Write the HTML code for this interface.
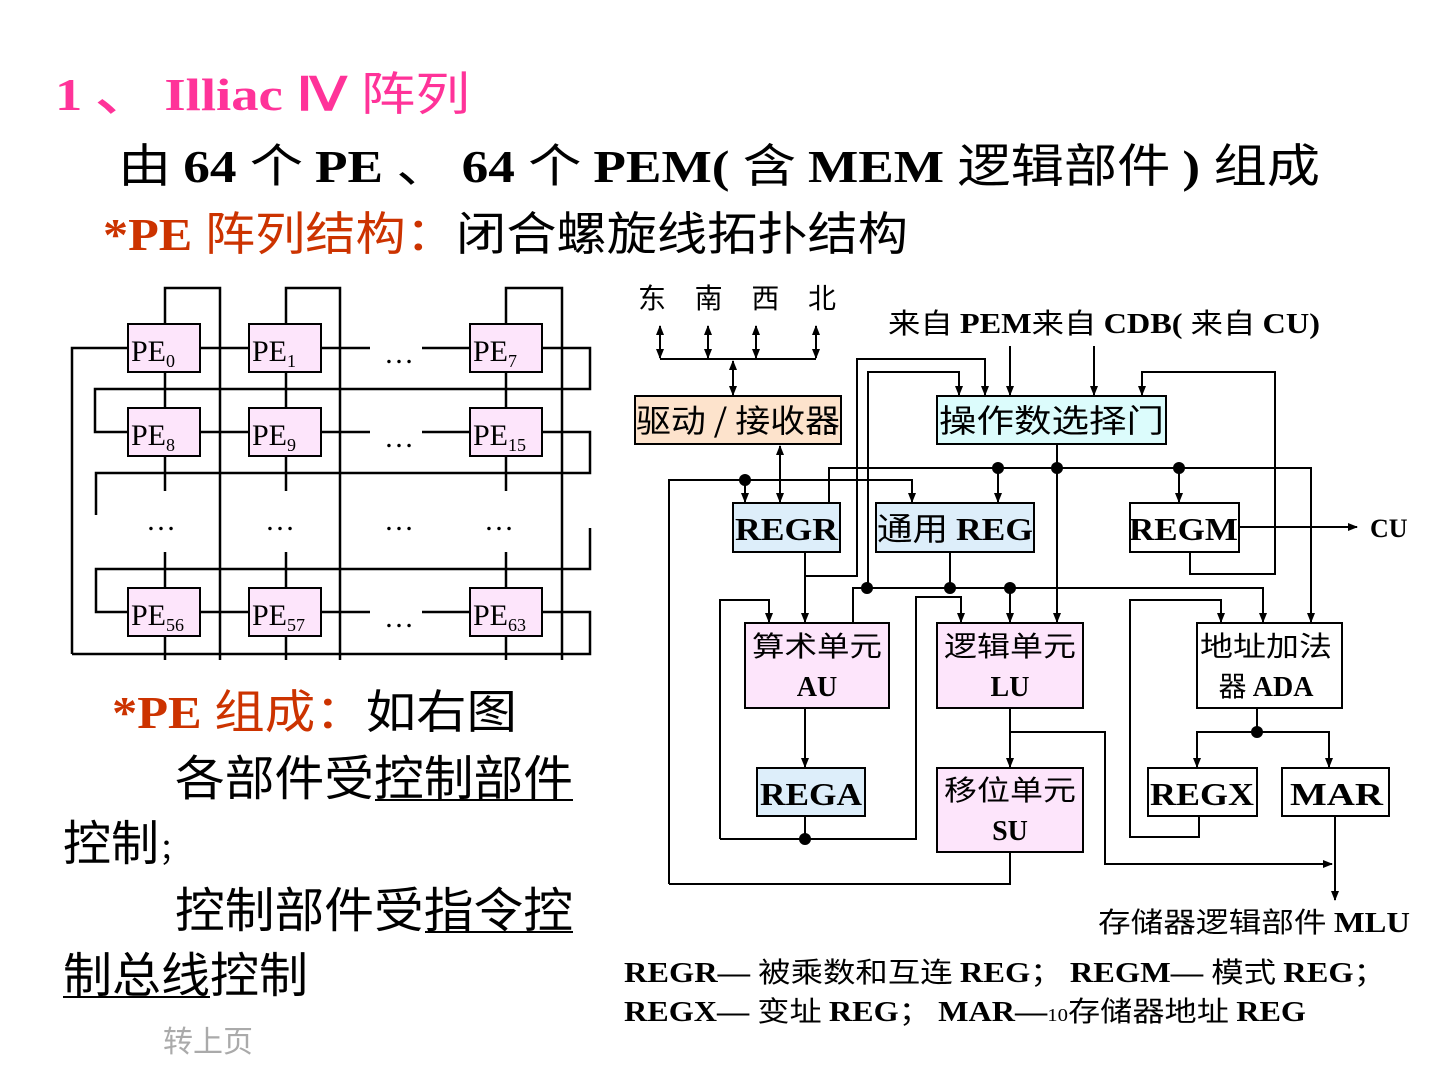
<!DOCTYPE html>
<html><head><meta charset="utf-8"><style>
html,body{margin:0;padding:0;background:#fff;}
svg{display:block;}
.s{font-family:"Liberation Serif","Noto Sans CJK SC",serif;}
.b{font-weight:bold;}
.z{font-family:"Noto Sans CJK SC","WenQuanYi Zen Hei",sans-serif;}
</style></head><body>
<svg width="1440" height="1080" viewBox="0 0 1440 1080" xmlns="http://www.w3.org/2000/svg">
<defs>
<marker id="a" markerWidth="10" markerHeight="10" refX="9" refY="5" orient="auto" markerUnits="userSpaceOnUse"><path d="M0,1 L10,5 L0,9 z" fill="#000"/></marker>
<marker id="as" markerWidth="10" markerHeight="10" refX="1" refY="5" orient="auto" markerUnits="userSpaceOnUse"><path d="M10,1 L0,5 L10,9 z" fill="#000"/></marker>
</defs>

<text x="55" y="110" font-family="Liberation Serif,serif" font-weight="bold" font-size="46" fill="#ff3399" textLength="415" lengthAdjust="spacingAndGlyphs">1 、 Illiac Ⅳ <tspan class="z" font-weight="normal">阵列</tspan></text>
<text x="118" y="182" class="s" font-size="46" fill="#000" textLength="1202" lengthAdjust="spacingAndGlyphs"><tspan class="z">由 </tspan><tspan font-weight="bold">64 </tspan><tspan class="z">个 </tspan><tspan font-weight="bold">PE </tspan><tspan class="z">、 </tspan><tspan font-weight="bold">64 </tspan><tspan class="z">个 </tspan><tspan font-weight="bold">PEM( </tspan><tspan class="z">含 </tspan><tspan font-weight="bold">MEM </tspan><tspan class="z">逻辑部件 </tspan><tspan font-weight="bold">) </tspan><tspan class="z">组成</tspan></text>
<text x="103" y="250" class="s" font-size="46" fill="#cc3300" textLength="805" lengthAdjust="spacingAndGlyphs"><tspan font-weight="bold">*PE </tspan><tspan class="z">阵列结构：</tspan><tspan class="z" fill="#000">闭合螺旋线拓扑结构</tspan></text>

<g stroke="#000" stroke-width="2.5" fill="none">
<polyline points="165,323 165,288 220,288 220,660"/>
<polyline points="286,323 286,288 340,288 340,660"/>
<polyline points="506,323 506,288 562,288 562,660"/>
<line x1="165" y1="372" x2="165" y2="407"/><line x1="286" y1="372" x2="286" y2="407"/><line x1="506" y1="372" x2="506" y2="407"/>
<line x1="165" y1="456" x2="165" y2="491"/><line x1="286" y1="456" x2="286" y2="491"/><line x1="506" y1="456" x2="506" y2="491"/>
<line x1="165" y1="552" x2="165" y2="587"/><line x1="286" y1="552" x2="286" y2="587"/><line x1="506" y1="552" x2="506" y2="587"/>
<line x1="165" y1="636" x2="165" y2="660"/><line x1="286" y1="636" x2="286" y2="660"/><line x1="506" y1="636" x2="506" y2="660"/>
<line x1="200" y1="348" x2="249" y2="348"/><line x1="321" y1="348" x2="370" y2="348"/><line x1="422" y1="348" x2="470" y2="348"/>
<polyline points="72,654 72,348 128,348"/>
<polyline points="542,348 590,348 590,389 95,389 95,432 128,432"/>
<line x1="200" y1="432" x2="249" y2="432"/><line x1="321" y1="432" x2="370" y2="432"/><line x1="422" y1="432" x2="470" y2="432"/>
<polyline points="542,432 590,432 590,473 96,473 96,515"/>
<polyline points="590,528 590,569 96,569 96,612 128,612"/>
<line x1="200" y1="612" x2="249" y2="612"/><line x1="321" y1="612" x2="370" y2="612"/><line x1="422" y1="612" x2="470" y2="612"/>
<polyline points="542,612 590,612 590,654 72,654"/>
</g>
<g stroke="#000" stroke-width="2" fill="#fde5fb">
<rect x="128" y="324" width="72" height="48"/><rect x="249" y="324" width="72" height="48"/><rect x="470" y="324" width="72" height="48"/>
<rect x="128" y="408" width="72" height="48"/><rect x="249" y="408" width="72" height="48"/><rect x="470" y="408" width="72" height="48"/>
<rect x="128" y="588" width="72" height="48"/><rect x="249" y="588" width="72" height="48"/><rect x="470" y="588" width="72" height="48"/>
</g>
<g class="s" font-size="30" fill="#000">
<text x="131" y="361">PE<tspan font-size="18" dy="6">0</tspan></text>
<text x="252" y="361">PE<tspan font-size="18" dy="6">1</tspan></text>
<text x="473" y="361">PE<tspan font-size="18" dy="6">7</tspan></text>
<text x="131" y="445">PE<tspan font-size="18" dy="6">8</tspan></text>
<text x="252" y="445">PE<tspan font-size="18" dy="6">9</tspan></text>
<text x="473" y="445">PE<tspan font-size="18" dy="6">15</tspan></text>
<text x="131" y="625">PE<tspan font-size="18" dy="6">56</tspan></text>
<text x="252" y="625">PE<tspan font-size="18" dy="6">57</tspan></text>
<text x="473" y="625">PE<tspan font-size="18" dy="6">63</tspan></text>
<text x="384" y="363">…</text><text x="384" y="447">…</text><text x="384" y="627">…</text>
<text x="146" y="530">…</text><text x="265" y="530">…</text><text x="384" y="530">…</text><text x="484" y="530">…</text>
</g>

<text x="112" y="728" class="s" font-size="46" fill="#cc3300" textLength="405" lengthAdjust="spacingAndGlyphs"><tspan font-weight="bold">*PE </tspan><tspan class="z">组成：</tspan><tspan class="z" fill="#000">如右图</tspan></text>
<g class="z" font-size="48" fill="#000">
<text x="175" y="795" textLength="398" lengthAdjust="spacingAndGlyphs">各部件受控制部件</text>
<text x="63" y="860">控制<tspan font-size="30">；</tspan></text>
<text x="175" y="927" textLength="398" lengthAdjust="spacingAndGlyphs">控制部件受指令控</text>
<text x="63" y="992" textLength="245" lengthAdjust="spacingAndGlyphs">制总线控制</text>
</g>
<line x1="375" y1="800" x2="573" y2="800" stroke="#000" stroke-width="2"/>
<line x1="425" y1="932" x2="573" y2="932" stroke="#000" stroke-width="2"/>
<line x1="63" y1="997" x2="210" y2="997" stroke="#000" stroke-width="2"/>
<text x="163" y="1052" class="z" font-size="30" fill="#aaaaaa">转上页</text>

<text x="638" y="308" class="z" font-size="28" fill="#000" textLength="198" lengthAdjust="spacing">东 南 西 北</text>
<text x="888" y="333" class="s b" font-size="28" fill="#000" textLength="432" lengthAdjust="spacingAndGlyphs"><tspan class="z" font-weight="normal">来自 </tspan>PEM<tspan class="z" font-weight="normal">来自 </tspan>CDB( <tspan class="z" font-weight="normal">来自 </tspan>CU)</text>

<g stroke="#000" stroke-width="2" fill="none">
<line x1="660" y1="326" x2="660" y2="358" marker-start="url(#as)" marker-end="url(#a)"/>
<line x1="708" y1="326" x2="708" y2="358" marker-start="url(#as)" marker-end="url(#a)"/>
<line x1="756" y1="326" x2="756" y2="358" marker-start="url(#as)" marker-end="url(#a)"/>
<line x1="816" y1="326" x2="816" y2="358" marker-start="url(#as)" marker-end="url(#a)"/>
<line x1="660" y1="359" x2="816" y2="359"/>
<line x1="733" y1="361" x2="733" y2="395" marker-start="url(#as)" marker-end="url(#a)"/>
<polyline points="805,576 857,576 857,359 985,359 985,395" marker-end="url(#a)"/>
<polyline points="868,588 868,372 959,372 959,395" marker-end="url(#a)"/>
<line x1="1010" y1="346" x2="1010" y2="395" marker-end="url(#a)"/>
<line x1="1094" y1="346" x2="1094" y2="395" marker-end="url(#a)"/>
<polyline points="1190,552 1190,574 1275,574 1275,372 1142,372 1142,395" marker-end="url(#a)"/>
<line x1="1057" y1="444" x2="1057" y2="622" marker-end="url(#a)"/>
<polyline points="829,502 829,468 1311,468 1311,622" marker-end="url(#a)"/>
<line x1="998" y1="468" x2="998" y2="502" marker-end="url(#a)"/>
<line x1="1179" y1="468" x2="1179" y2="502" marker-end="url(#a)"/>
<polyline points="669,884 669,480 912,480 912,502" marker-end="url(#a)"/>
<line x1="745" y1="480" x2="745" y2="502" marker-end="url(#a)"/>
<polyline points="669,884 1010,884 1010,853"/>
<line x1="780" y1="446" x2="780" y2="502" marker-start="url(#as)" marker-end="url(#a)"/>
<line x1="805" y1="552" x2="805" y2="622" marker-end="url(#a)"/>
<line x1="950" y1="552" x2="950" y2="588"/>
<polyline points="853,622 853,588 1263,588 1263,622" marker-end="url(#a)"/>
<line x1="1010" y1="588" x2="1010" y2="622" marker-end="url(#a)"/>
<polyline points="720,839 720,600 769,600 769,622" marker-end="url(#a)"/>
<polyline points="720,839 916,839 916,597 961,597 961,622" marker-end="url(#a)"/>
<line x1="805" y1="708" x2="805" y2="767" marker-end="url(#a)"/>
<line x1="805" y1="816" x2="805" y2="839"/>
<line x1="1010" y1="708" x2="1010" y2="767" marker-end="url(#a)"/>
<polyline points="1010,732 1105,732 1105,864 1332,864" marker-end="url(#a)"/>
<line x1="1257" y1="708" x2="1257" y2="732"/>
<polyline points="1197,767 1197,732 1329,732 1329,767" marker-end="url(#a)"/>
<line x1="1197" y1="733" x2="1197" y2="767" marker-end="url(#a)"/>
<polyline points="1199,816 1199,837 1130,837 1130,600 1221,600 1221,622" marker-end="url(#a)"/>
<line x1="1335" y1="816" x2="1335" y2="900" marker-end="url(#a)"/>
<line x1="1239" y1="527" x2="1357" y2="527" marker-end="url(#a)"/>
</g>
<g fill="#000">
<circle cx="998" cy="468" r="6"/><circle cx="1057" cy="468" r="6"/><circle cx="1179" cy="468" r="6"/>
<circle cx="745" cy="480" r="6"/>
<circle cx="867" cy="588" r="6"/><circle cx="950" cy="588" r="6"/><circle cx="1010" cy="588" r="6"/>
<circle cx="805" cy="839" r="6"/><circle cx="1257" cy="732" r="6"/>
</g>

<g stroke="#000" stroke-width="2">
<rect x="635" y="396" width="206" height="48" fill="#fde3cc"/>
<rect x="937" y="396" width="229" height="48" fill="#dcfcfc"/>
<rect x="733" y="503" width="107" height="49" fill="#ddeefa"/>
<rect x="876" y="503" width="158" height="49" fill="#ddeefa"/>
<rect x="1130" y="503" width="109" height="49" fill="#fff"/>
<rect x="745" y="623" width="144" height="85" fill="#fde5fb"/>
<rect x="937" y="623" width="146" height="85" fill="#fde5fb"/>
<rect x="1197" y="623" width="145" height="85" fill="#fff"/>
<rect x="757" y="768" width="108" height="48" fill="#ddeefa"/>
<rect x="937" y="768" width="146" height="84" fill="#fde5fb"/>
<rect x="1148" y="768" width="109" height="48" fill="#fff"/>
<rect x="1282" y="768" width="107" height="48" fill="#fff"/>
</g>
<g fill="#000" font-size="32">
<text x="636" y="432" class="z" textLength="204" lengthAdjust="spacingAndGlyphs">驱动 / 接收器</text>
<text x="939" y="432" class="z" textLength="225" lengthAdjust="spacingAndGlyphs">操作数选择门</text>
<text x="735" y="540" class="s b" textLength="103" lengthAdjust="spacingAndGlyphs">REGR</text>
<text x="877" y="540" class="s b" textLength="156" lengthAdjust="spacingAndGlyphs"><tspan class="z" font-weight="normal">通用 </tspan>REG</text>
<text x="1129" y="540" class="s b" textLength="109" lengthAdjust="spacingAndGlyphs">REGM</text>
<text x="1370" y="537" class="s b" font-size="26">CU</text>
<text x="760" y="805" class="s b" textLength="102" lengthAdjust="spacingAndGlyphs">REGA</text>
<text x="1150" y="805" class="s b" textLength="104" lengthAdjust="spacingAndGlyphs">REGX</text>
<text x="1290" y="805" class="s b" textLength="93" lengthAdjust="spacingAndGlyphs">MAR</text>
</g>
<g fill="#000" font-size="28" text-anchor="middle">
<text x="817" y="656" class="z" textLength="130" lengthAdjust="spacingAndGlyphs">算术单元</text>
<text x="817" y="696" class="s b">AU</text>
<text x="1010" y="656" class="z" textLength="132" lengthAdjust="spacingAndGlyphs">逻辑单元</text>
<text x="1010" y="696" class="s b">LU</text>
<text x="1266" y="656" class="z" textLength="132" lengthAdjust="spacingAndGlyphs">地址加法</text>
<text x="1266" y="696" class="s b"><tspan class="z" font-weight="normal">器 </tspan>ADA</text>
<text x="1010" y="800" class="z" textLength="132" lengthAdjust="spacingAndGlyphs">移位单元</text>
<text x="1010" y="840" class="s b">SU</text>
</g>
<text x="1098" y="932" class="s b" font-size="28" fill="#000" textLength="312" lengthAdjust="spacingAndGlyphs"><tspan class="z" font-weight="normal">存储器逻辑部件 </tspan>MLU</text>
<text x="624" y="982" class="s b" font-size="28" fill="#000" textLength="762" lengthAdjust="spacingAndGlyphs">REGR— <tspan class="z" font-weight="normal">被乘数和互连 </tspan>REG<tspan class="z" font-weight="normal">；  </tspan>REGM— <tspan class="z" font-weight="normal">模式 </tspan>REG<tspan class="z" font-weight="normal">；</tspan></text>
<text x="624" y="1021" class="s b" font-size="28" fill="#000" textLength="682" lengthAdjust="spacingAndGlyphs">REGX— <tspan class="z" font-weight="normal">变址 </tspan>REG<tspan class="z" font-weight="normal">；  </tspan>MAR—<tspan font-weight="normal" font-size="18">10</tspan><tspan class="z" font-weight="normal">存储器地址 </tspan>REG</text>
</svg>
</body></html>
